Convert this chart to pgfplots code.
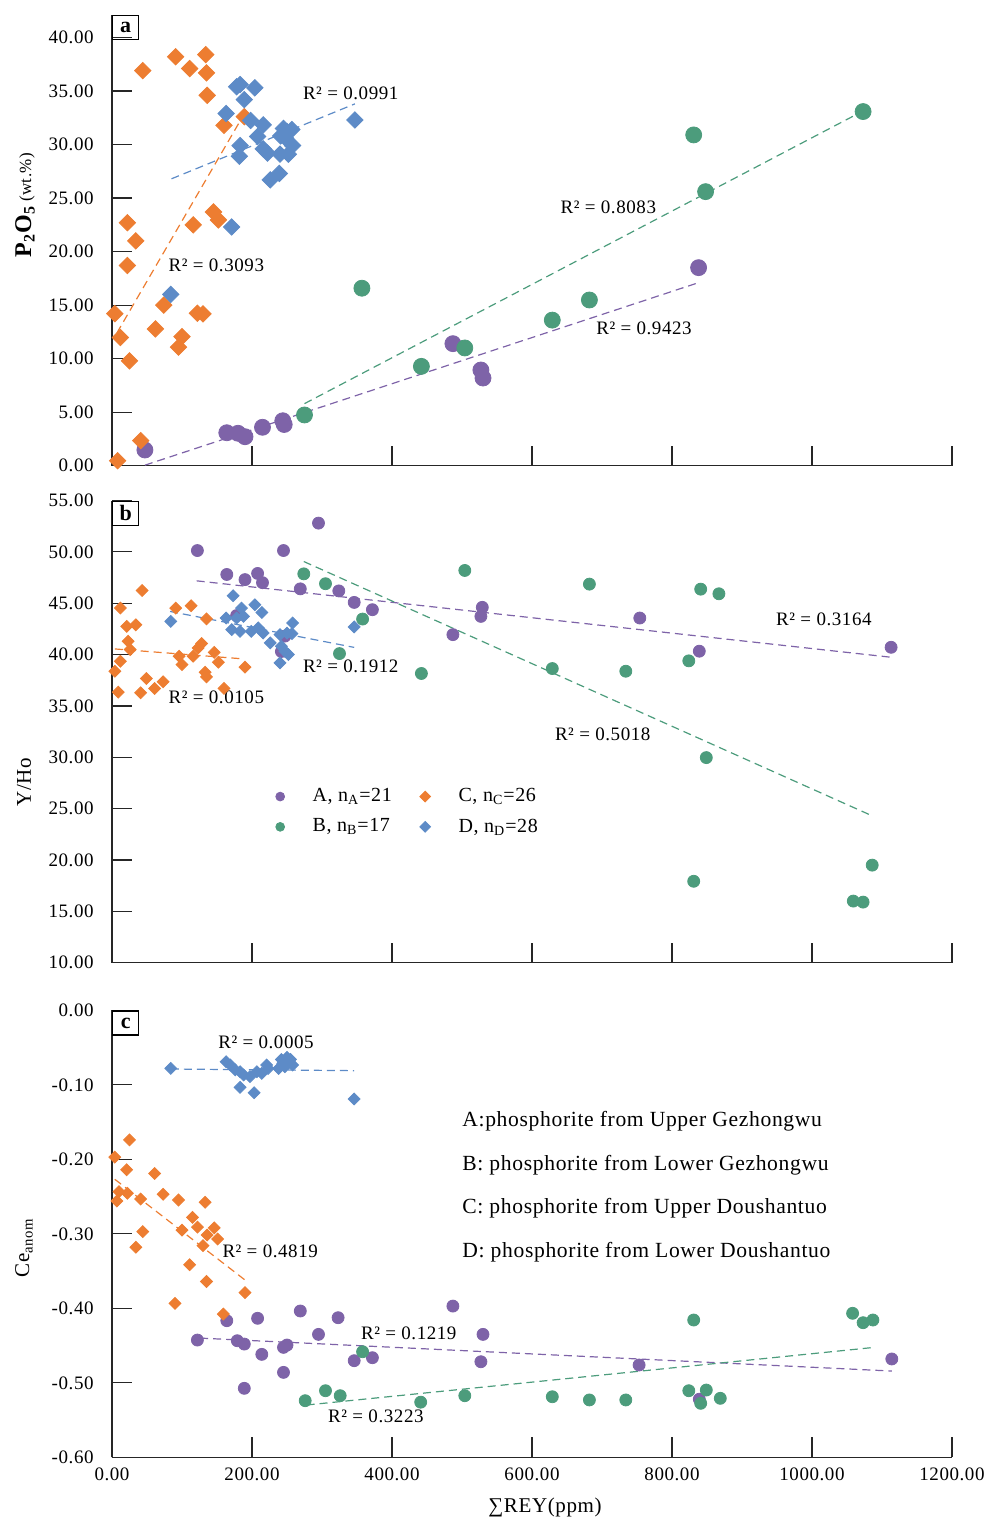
\documentclass[border=0pt]{standalone}
\usepackage{fontspec}
\setmainfont{Liberation Serif}[LetterSpace=3]
\usepackage{pgfplots}
\pgfplotsset{compat=1.18}
\definecolor{cA}{RGB}{126,99,168}
\definecolor{cB}{RGB}{76,156,124}
\definecolor{cC}{RGB}{237,125,49}
\definecolor{cD}{RGB}{93,139,199}
\tikzset{
  rlab/.style={font=\fontsize{9.5}{11}\selectfont, inner sep=0pt},
  plab/.style={draw, line width=0.7pt, anchor=north west, minimum width=13pt, minimum height=12pt, inner sep=0pt, font=\fontsize{11}{12}\selectfont\bfseries},
}
\pgfplotsset{
  common/.style={
    scale only axis, width=420pt,
    xmin=0, xmax=1200,
    axis x line*=bottom, axis y line*=left,
    axis line style={line width=0.7pt, black!85},
    tick align=inside, major tick length=10pt,
    tick style={line width=0.6pt, black!85},
    clip=false,
    tick label style={font=\fontsize{9.5}{11}\selectfont},
    /pgf/number format/.cd, fixed, fixed zerofill, precision=2, 1000 sep={}, assume math mode=true,
    /pgfplots/.cd,
    yticklabel style={anchor=east, inner sep=0pt, xshift=-9pt},
    xticklabel style={anchor=north, inner sep=0pt, yshift=-5pt},
  },
  ptA/.style={only marks, mark=*, color=cA, mark options={draw=none, fill=cA}},
  ptB/.style={only marks, mark=*, color=cB, mark options={draw=none, fill=cB}},
  ptC/.style={only marks, mark=square*, color=cC, mark options={draw=none, fill=cC, rotate=45}},
  ptD/.style={only marks, mark=square*, color=cD, mark options={draw=none, fill=cD, rotate=45}},
  trend/.style={no marks, line width=0.6pt, dash pattern=on 4pt off 2.5pt},
}
\begin{document}
\begin{tikzpicture}
\useasboundingbox (0,0) rectangle (500.5pt,-761.5pt);
% ---------------- Panel a ----------------
\begin{axis}[common, at={(56pt,-232.85pt)}, anchor=south west, height=225.35pt,
  ymin=0, ymax=42.1, ytick={0,5,...,40}, xtick={200,400,...,1200}, xticklabels={}]
\addplot[ptA, mark size=4pt] coordinates {(47,1.47) (164,3.08) (180,3.03) (190,2.71) (215,3.59) (244,4.2) (246,3.85) (487,11.4) (527,8.94) (530,8.19) (838,18.5)};
\addplot[ptB, mark size=4pt] coordinates {(275,4.74) (357,16.58) (442,9.28) (504,11.0) (629,13.6) (682,15.48) (831,30.9) (848,25.6) (1073,33.08)};
\addplot[ptC, mark size=2.9pt] coordinates {(44,36.9) (91,38.2) (134,38.4) (111,37.1) (135,36.7) (136,34.6) (160,31.8) (189,32.6) (145,23.7) (152,22.96) (116,22.5) (22,22.7) (34,21.0) (22,18.7) (4,14.2) (74,15.0) (122,14.24) (130,14.18) (62,12.78) (12,11.97) (100,12.06) (95,11.07) (25,9.8) (41,2.34) (8,0.47)};
\addplot[ptD, mark size=2.9pt] coordinates {(178,35.4) (183,35.6) (204,35.3) (189,34.2) (163,32.9) (198,32.25) (216,31.84) (208,30.75) (245,31.5) (250,31.2) (257,31.4) (241,30.8) (248,30.6) (183,29.9) (258,29.9) (216,29.6) (222,29.2) (240,29.1) (252,29.1) (182,28.9) (239,27.3) (226,26.7) (347,32.3) (171,22.3) (84,16.0)};
\addplot[trend, cA] coordinates {(47,0.05) (838,17.1)};
\addplot[trend, cB] coordinates {(275,5.8) (1069,33.0)};
\addplot[trend, cC] coordinates {(7,12.4) (191,33.1)};
\addplot[trend, cD] coordinates {(85,26.8) (347,33.8)};
\node[rlab] at (axis cs:341,34.8) {R² = 0.0991};
\node[rlab] at (axis cs:149,18.75) {R² = 0.3093};
\node[rlab] at (axis cs:709,24.1) {R² = 0.8083};
\node[rlab] at (axis cs:760,12.8) {R² = 0.9423};
\node[plab] at (rel axis cs:0,1) {a};
\end{axis}
% ---------------- Panel b ----------------
\begin{axis}[common, at={(56pt,-481.35pt)}, anchor=south west, height=231.1pt,
  ymin=10, ymax=55, ytick={10,15,...,55}, xtick={200,400,...,1200}, xticklabels={},
  legend style={draw=none, fill=none, at={(axis cs:424,24.7)}, anchor=center,
    font=\fontsize{10}{12}\selectfont, column sep=12pt, row sep=3pt},
  legend columns=2, legend cell align=left]
\addplot[ptA, mark size=3pt, forget plot] coordinates {(122,50.13) (295,52.8) (245,50.13) (164,47.8) (190,47.3) (208,47.9) (215,47.0) (269,46.4) (324,46.2) (346,45.08) (372,44.37) (178,43.8) (247,41.8) (242,40.3) (529,44.6) (527,43.72) (487,41.94) (754,43.56) (839,40.33) (1113,40.71)};
\addplot[ptB, mark size=3pt, forget plot] coordinates {(504,48.19) (682,46.86) (841,46.37) (867,45.92) (442,38.16) (629,38.64) (734,38.38) (824,39.39) (849,29.97) (1086,19.5) (831,17.93) (1059,16.0) (1073,15.9) (274,47.86) (305,46.9) (358,43.46) (325,40.1)};
\addplot[ptC, mark size=2.1pt, forget plot] coordinates {(43,46.24) (12,44.53) (91,44.53) (113,44.76) (135,43.47) (21,42.75) (34,42.9) (23,41.3) (26,40.49) (128,41.07) (123,40.65) (146,40.22) (12,39.35) (4,38.38) (96,39.84) (100,39.03) (116,39.84) (152,39.26) (190,38.77) (133,38.28) (135,37.83) (49,37.67) (73,37.35) (61,36.7) (41,36.28) (9,36.34) (160,36.7)};
\addplot[ptD, mark size=2.1pt, forget plot] coordinates {(173,45.73) (185,44.53) (204,44.85) (214,44.1) (188,43.72) (178,43.56) (163,43.56) (84,43.23) (258,43.08) (171,42.43) (183,42.26) (199,42.26) (209,42.6) (216,42.1) (240,41.94) (250,42.1) (257,42.04) (226,41.14) (242,40.81) (247,40.32) (252,40.0) (240,39.19) (346,42.69)};
\addplot[trend, cA, forget plot] coordinates {(121,47.18) (1113,39.74)};
\addplot[trend, cB, forget plot] coordinates {(274,49.06) (1086,24.3)};
\addplot[trend, cC, forget plot] coordinates {(4,40.55) (188,39.58)};
\addplot[trend, cD, forget plot] coordinates {(83,44.2) (346,40.7)};
\addlegendimage{ptA, mark size=2.2pt}
\addlegendentry{A, n\textsubscript{A}=21}
\addlegendimage{ptC, mark size=1.9pt}
\addlegendentry{C, n\textsubscript{C}=26}
\addlegendimage{ptB, mark size=2.2pt}
\addlegendentry{B, n\textsubscript{B}=17}
\addlegendimage{ptD, mark size=1.9pt}
\addlegendentry{D, n\textsubscript{D}=28}
\node[rlab] at (axis cs:1017,43.4) {R² = 0.3164};
\node[rlab] at (axis cs:341,38.83) {R² = 0.1912};
\node[rlab] at (axis cs:149,35.8) {R² = 0.0105};
\node[rlab] at (axis cs:701,32.2) {R² = 0.5018};
\node[plab] at (rel axis cs:0,1) {b};
\end{axis}
% ---------------- Panel c ----------------
\begin{axis}[common, at={(56pt,-728.65pt)}, anchor=south west, height=223.5pt,
  ymin=-0.6, ymax=0, ytick={-0.6,-0.5,...,0}, xtick={0,200,...,1200}]
\addplot[ptA, mark size=3pt] coordinates {(122,-0.4426) (164,-0.4166) (179,-0.4435) (189,-0.448) (208,-0.4134) (214,-0.4618) (245,-0.4524) (250,-0.4493) (245,-0.486) (189,-0.5074) (269,-0.4036) (295,-0.435) (323,-0.4126) (346,-0.4703) (372,-0.4663) (487,-0.397) (530,-0.435) (527,-0.4717) (753,-0.4761) (839,-0.522) (1114,-0.468)};
\addplot[ptB, mark size=3pt] coordinates {(358,-0.4583) (276,-0.524) (305,-0.5106) (326,-0.5173) (441,-0.526) (504,-0.5173) (629,-0.5187) (682,-0.523) (734,-0.523) (824,-0.5106) (849,-0.5097) (869,-0.5208) (841,-0.5275) (831,-0.4157) (1058,-0.4067) (1073,-0.4193) (1087,-0.4157)};
\addplot[ptC, mark size=2.1pt] coordinates {(25,-0.174) (4,-0.197) (21,-0.214) (61,-0.219) (10,-0.2435) (22,-0.2456) (7,-0.256) (41,-0.2533) (73,-0.247) (95,-0.2546) (133,-0.2577) (115,-0.278) (122,-0.291) (146,-0.292) (100,-0.295) (44,-0.297) (136,-0.3016) (151,-0.307) (130,-0.316) (34,-0.318) (111,-0.3415) (135,-0.364) (190,-0.379) (90,-0.3933) (159,-0.4077)};
\addplot[ptD, mark size=2.1pt] coordinates {(84,-0.0779) (163,-0.069) (169,-0.0734) (176,-0.080) (183,-0.0824) (188,-0.0868) (197,-0.089) (207,-0.0824) (214,-0.0846) (221,-0.0734) (223,-0.078) (238,-0.078) (244,-0.0712) (250,-0.0631) (253,-0.069) (258,-0.0734) (247,-0.0757) (242,-0.066) (255,-0.066) (183,-0.1034) (203,-0.1106) (346,-0.119)};
\addplot[trend, cA] coordinates {(126,-0.44) (1114,-0.4842)};
\addplot[trend, cB] coordinates {(278,-0.5298) (1084,-0.4529)};
\addplot[trend, cC] coordinates {(4,-0.2268) (190,-0.362)};
\addplot[trend, cD] coordinates {(84,-0.0788) (346,-0.081)};
\node[rlab] at (axis cs:220,-0.0423) {R² = 0.0005};
\node[rlab] at (axis cs:226,-0.324) {R² = 0.4819};
\node[rlab] at (axis cs:424,-0.4336) {R² = 0.1219};
\node[rlab] at (axis cs:377,-0.545) {R² = 0.3223};
\begin{scope}[every node/.style={anchor=west, inner sep=0pt, font=\fontsize{10.8}{12}\selectfont}]
\node at (axis cs:500,-0.1486) {A:phosphorite from Upper Gezhongwu};
\node at (axis cs:500,-0.2078) {B: phosphorite from Lower Gezhongwu};
\node at (axis cs:500,-0.2655) {C: phosphorite from Upper Doushantuo};
\node at (axis cs:500,-0.3245) {D: phosphorite from Lower Doushantuo};
\end{scope}
\node[plab] at (rel axis cs:0,1) {c};
\end{axis}
% ---------------- axis titles ----------------
\node[rotate=90, inner sep=0pt] at (12.5pt,-102.5pt) {\fontsize{12}{13}\selectfont\bfseries P\textsubscript{2}O\textsubscript{5}\,\mdseries\fontsize{8.5}{10}\selectfont (wt.\%)};
\node[rotate=90, inner sep=0pt, font=\fontsize{10.5}{12}\selectfont] at (12pt,-391pt) {Y/Ho};
\node[rotate=90, inner sep=0pt, font=\fontsize{10.5}{12}\selectfont] at (12pt,-624pt) {Ce\textsubscript{anom}};
\node[inner sep=0pt, font=\fontsize{10.5}{12}\selectfont] at (272.5pt,-753.5pt) {∑REY(ppm)};
\end{tikzpicture}
\end{document}
